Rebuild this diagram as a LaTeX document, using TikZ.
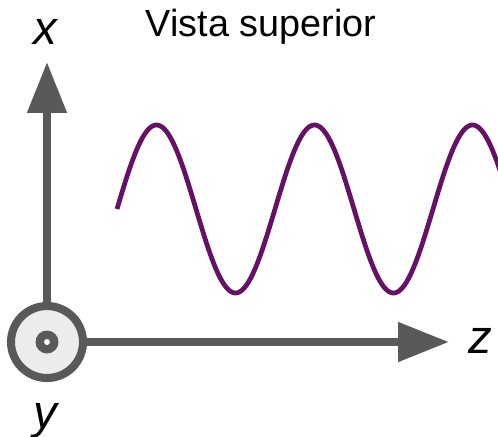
\documentclass[tikz,border=0pt]{standalone}
\usepackage{fontspec}
\setmainfont{Liberation Sans}
\usetikzlibrary{arrows.meta,positioning}
\definecolor{axiscol}{RGB}{89,89,89}
\definecolor{wavecol}{RGB}{102,16,102}
\definecolor{discol}{RGB}{236,236,236}

\begin{document}
\begin{tikzpicture}[x=0.02cm,y=-0.02cm,
  axis/.style={axiscol,line width=4.6pt,-{Triangle[length=1.02cm,width=0.76cm]}},
  axlabel/.style={font=\fontsize{27}{30}\selectfont\itshape}]
\useasboundingbox (0,0) rectangle (498,437);
% origin, y axis pointing out of the page
\node[circle,draw=axiscol,fill=discol,line width=4.6pt,minimum size=1.44cm,inner sep=0pt] (origin) at (47,342) {};
\fill[axiscol] (origin.center) circle (0.23cm);
\fill[white] (origin.center) circle (0.06cm);
\coordinate (xtip) at (47,62);
\coordinate (ztip) at (449,342);
% axes
\draw[axis] (origin.north) -- (xtip);
\draw[axis] (origin.east) -- (ztip);
\node[axlabel] (xlab) at (45,32) {x};
\node[axlabel] (zlab) at (480,341) {z};
\node[axlabel] (ylab) at (45,421) {y};
\node[font=\fontsize{21.5}{25}\selectfont] (title) at (261,27) {Vista superior};
% wave
\draw[wavecol,line width=2.7pt] plot[domain=117:500,samples=240,smooth] (\x,{209-84*sin(2.27848*(\x-117))});
\end{tikzpicture}
\end{document}
